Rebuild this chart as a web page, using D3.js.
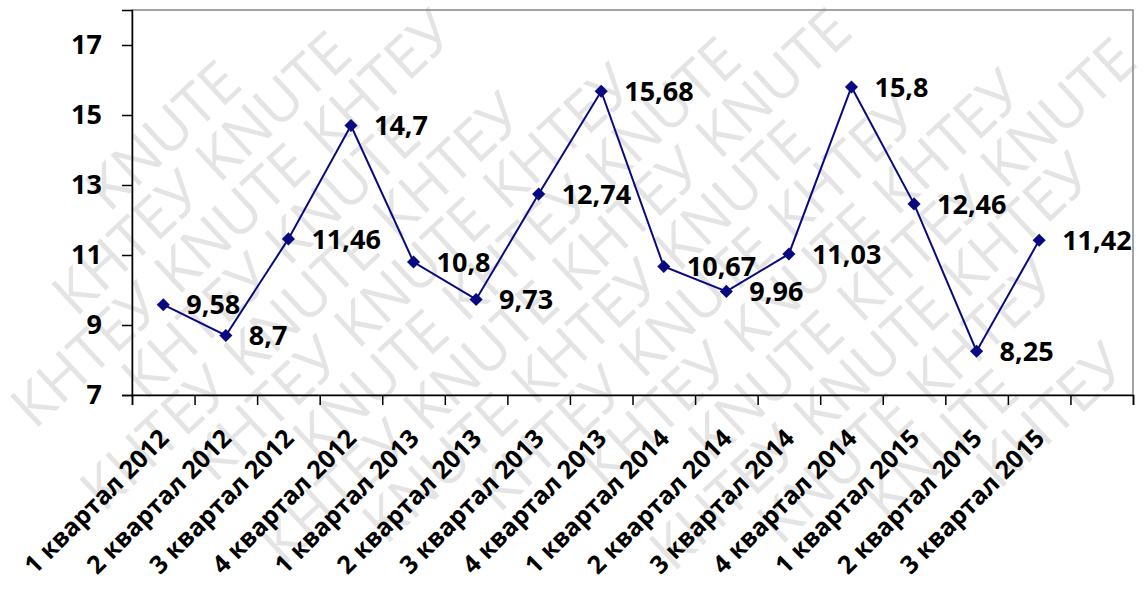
<!DOCTYPE html>
<html>
<head>
<meta charset="utf-8">
<script src="https://cdn.jsdelivr.net/npm/d3@7"></script>
<style>
  html, body { margin: 0; padding: 0; background: #fff; }
  svg { display: block; }
</style>
</head>
<body>
<svg id="chart" width="1147" height="594"></svg>
<script>
// ---- data ----
const categories = [
  "1 квартал 2012", "2 квартал 2012", "3 квартал 2012", "4 квартал 2012",
  "1 квартал 2013", "2 квартал 2013", "3 квартал 2013", "4 квартал 2013",
  "1 квартал 2014", "2 квартал 2014", "3 квартал 2014", "4 квартал 2014",
  "1 квартал 2015", "2 квартал 2015", "3 квартал 2015"
];
const values = [9.58, 8.7, 11.46, 14.7, 10.8, 9.73, 12.74, 15.68, 10.67, 9.96, 11.03, 15.8, 12.46, 8.25, 11.42];
const valueLabels = ["9,58", "8,7", "11,46", "14,7", "10,8", "9,73", "12,74", "15,68", "10,67", "9,96", "11,03", "15,8", "12,46", "8,25", "11,42"];
const yTicks = [7, 9, 11, 13, 15, 17];
const yDomain = [7, 18];
const watermarkWords = ["KNUTE", "КНТЕУ"];

// ---- layout ----
const W = 1147, H = 594;
const pLeft = 132, pRight = 1133, pTop = 10, pBottom = 395;
const svg = d3.select("#chart");
const FONT = "'Open Sans', sans-serif";

// watermark (only whole words that fit inside the picture)
const angle = -43, rad = angle * Math.PI / 180;
const wm = svg.append("g")
  .style("font-family", FONT)
  .style("font-size", "58px")
  .attr("fill", "#e4e4e4");
const toScreen = (lx, ly) => [
  W / 2 + lx * Math.cos(rad) - ly * Math.sin(rad),
  H / 2 + lx * Math.sin(rad) + ly * Math.cos(rad)
];
d3.range(-14, 15).forEach(i => {
  const ly = i * 54;
  let lx = -1000 + ((i * 97) % 200 + 200) % 200;
  let k = ((i % 2) + 2) % 2;
  while (lx < 1000) {
    const word = watermarkWords[k % 2];
    k++;
    const t = wm.append("text").attr("text-anchor", "middle").text(word);
    const w = t.node().getComputedTextLength();
    const mx = lx + w / 2;
    t.attr("transform", `translate(${toScreen(mx, ly)}) rotate(${angle})`);
    const corners = [[-w / 2, 0], [w / 2, 0], [-w / 2, -42], [w / 2, -42]]
      .map(([a, b]) => toScreen(mx + a, ly + b));
    const inside = corners.every(([sx, sy]) => sx >= 1 && sx <= W - 1 && sy >= 1 && sy <= H - 1);
    if (!inside) t.remove();
    lx += w + 18;
  }
});

// scales
const slots = categories.concat([""]); // one empty slot at the end
const x = d3.scaleBand().domain(d3.range(slots.length)).range([pLeft, pRight]).padding(0);
const xEdge = d3.scaleLinear().domain([0, slots.length]).range([pLeft, pRight]);
const y = d3.scaleLinear().domain(yDomain).range([pBottom, pTop]);
const cx = i => x(i) + x.bandwidth() / 2;

// plot frame (top & right)
svg.append("rect")
  .attr("x", pLeft).attr("y", pTop)
  .attr("width", pRight - pLeft).attr("height", pBottom - pTop)
  .attr("fill", "none").attr("stroke", "#868686").attr("stroke-width", 1.5);

// y axis
const yAxis = svg.append("g")
  .attr("transform", `translate(${pLeft},0)`)
  .call(d3.axisLeft(y).tickValues(yTicks).tickSize(10).tickPadding(20).tickFormat(d3.format("d")));
yAxis.select(".domain").attr("stroke", "#000").attr("stroke-width", 1.5);
yAxis.selectAll(".tick line").attr("stroke", "#000").attr("stroke-width", 1.5);
yAxis.selectAll("text")
  .style("font-family", FONT)
  .style("font-size", "27px").style("font-weight", "bold").attr("fill", "#000");

// x axis tick marks (between categories)
const xTickAxis = svg.append("g")
  .attr("transform", `translate(0,${pBottom})`)
  .call(d3.axisBottom(xEdge).tickValues(d3.range(slots.length + 1)).tickSize(10).tickFormat(""));
xTickAxis.select(".domain").attr("stroke", "#000").attr("stroke-width", 1.5);
xTickAxis.selectAll(".tick line").attr("stroke", "#000").attr("stroke-width", 1.5);

// x axis labels
const xLabAxis = svg.append("g")
  .attr("transform", `translate(0,${pBottom})`)
  .call(d3.axisBottom(x).tickSize(0).tickFormat(i => slots[i]));
xLabAxis.select(".domain").remove();
xLabAxis.selectAll("text")
  .style("font-family", FONT)
  .style("font-size", "25px").style("font-weight", "bold").attr("fill", "#000")
  .attr("text-anchor", "end")
  .attr("dy", 0).attr("y", 0)
  .attr("transform", "translate(7,45) rotate(-45)");

// line
const color = "#0a0a80";
svg.append("path")
  .datum(values)
  .attr("fill", "none").attr("stroke", color).attr("stroke-width", 2)
  .attr("d", d3.line().x((d, i) => cx(i)).y(d => y(d)));

// markers
svg.append("g").selectAll("path")
  .data(values).join("path")
  .attr("transform", (d, i) => `translate(${cx(i)},${y(d)})`)
  .attr("d", d3.symbol(d3.symbolDiamond2, 110))
  .attr("fill", color);

// value labels
svg.append("g").selectAll("text")
  .data(values).join("text")
  .attr("x", (d, i) => cx(i) + 23)
  .attr("y", d => y(d))
  .attr("dy", "0.36em")
  .style("font-family", FONT)
  .style("font-size", "27px").style("font-weight", "bold").attr("fill", "#000")
  .text((d, i) => valueLabels[i]);
</script>
</body>
</html>
